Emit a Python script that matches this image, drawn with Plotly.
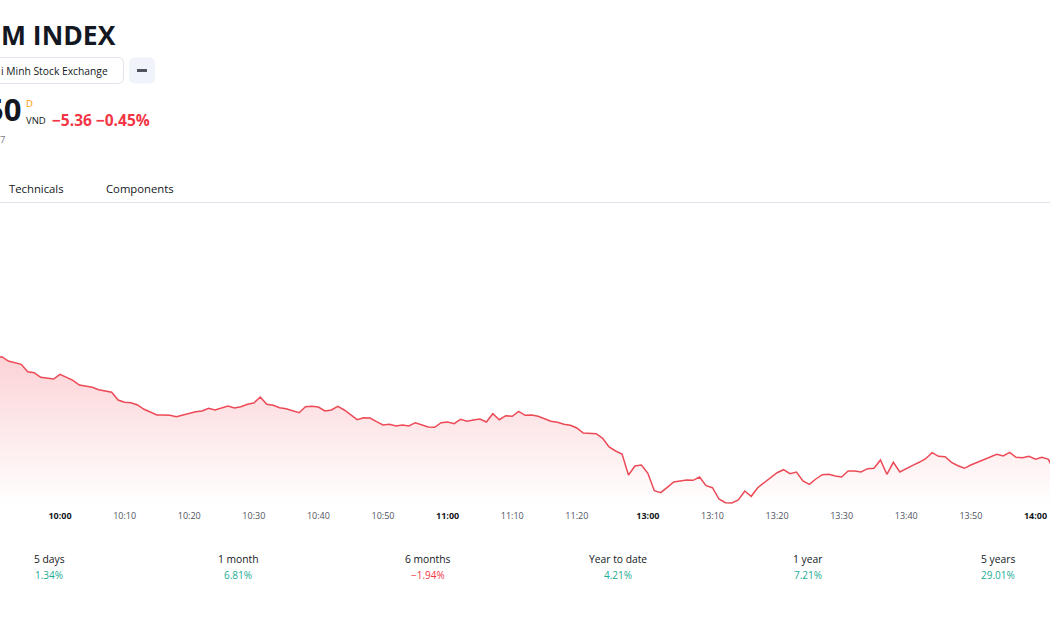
import plotly.graph_objects as go

W, H = 1050, 630
FONT = "Open Sans"
DARK = "#131722"
RED = "#f23645"
GREEN = "#22ab94"

# ---------------- data ----------------
times = [
    "09:50", "09:51", "09:52", "09:53", "09:54", "09:55", "09:56", "09:57", "09:58", "09:59",
    "10:00", "10:01", "10:02", "10:03", "10:04", "10:05", "10:06", "10:07", "10:08", "10:09",
    "10:10", "10:11", "10:12", "10:13", "10:14", "10:15", "10:16", "10:17", "10:18", "10:19",
    "10:20", "10:21", "10:22", "10:23", "10:24", "10:25", "10:26", "10:27", "10:28", "10:29",
    "10:30", "10:31", "10:32", "10:33", "10:34", "10:35", "10:36", "10:37", "10:38", "10:39",
    "10:40", "10:41", "10:42", "10:43", "10:44", "10:45", "10:46", "10:47", "10:48", "10:49",
    "10:50", "10:51", "10:52", "10:53", "10:54", "10:55", "10:56", "10:57", "10:58", "10:59",
    "11:00", "11:01", "11:02", "11:03", "11:04", "11:05", "11:06", "11:07", "11:08", "11:09",
    "11:10", "11:11", "11:12", "11:13", "11:14", "11:15", "11:16", "11:17", "11:18", "11:19",
    "11:20", "11:21", "11:22", "11:23", "11:24", "11:25", "11:26", "11:27", "11:28", "11:29",
    "11:30",
    "13:00", "13:01", "13:02", "13:03", "13:04", "13:05", "13:06", "13:07", "13:08", "13:09",
    "13:10", "13:11", "13:12", "13:13", "13:14", "13:15", "13:16", "13:17", "13:18", "13:19",
    "13:20", "13:21", "13:22", "13:23", "13:24", "13:25", "13:26", "13:27", "13:28", "13:29",
    "13:30", "13:31", "13:32", "13:33", "13:34", "13:35", "13:36", "13:37", "13:38", "13:39",
    "13:40", "13:41", "13:42", "13:43", "13:44", "13:45", "13:46", "13:47", "13:48", "13:49",
    "13:50", "13:51", "13:52", "13:53", "13:54", "13:55", "13:56", "13:57", "13:58", "13:59",
    "14:00", "14:01", "14:02", "14:03",
]

values = [
    1196.55, 1196.63, 1196.20, 1196.03, 1195.87, 1195.13, 1195.03, 1194.57, 1194.47, 1194.40,
    1194.87, 1194.57, 1194.27, 1193.80, 1193.67, 1193.57, 1193.33, 1193.23, 1193.07, 1192.30,
    1192.07, 1192.03, 1191.80, 1191.37, 1191.10, 1190.80, 1190.80, 1190.77, 1190.63, 1190.80,
    1190.90, 1191.13, 1191.20, 1191.47, 1191.30, 1191.53, 1191.70, 1191.50, 1191.63, 1191.87,
    1192.00, 1192.60, 1191.87, 1191.77, 1191.53, 1191.43, 1191.23, 1191.03, 1191.63, 1191.67,
    1191.60, 1191.20, 1191.30, 1191.67, 1191.30, 1190.80, 1190.33, 1190.53, 1190.50, 1190.13,
    1189.80, 1189.87, 1189.70, 1189.80, 1189.70, 1190.03, 1189.78, 1189.60, 1189.57, 1190.03,
    1190.10, 1189.93, 1190.37, 1190.17, 1190.30, 1190.40, 1190.10, 1190.93, 1190.33, 1190.73,
    1190.67, 1191.17, 1190.77, 1190.80, 1190.67, 1190.40, 1190.17, 1190.07, 1189.87, 1189.77,
    1189.50, 1189.00, 1188.93, 1188.93, 1188.47, 1187.60, 1187.20, 1186.90, 1184.80, 1185.70,
    1185.80,
    1184.97, 1183.23, 1183.03, 1183.57, 1184.10, 1184.20, 1184.30, 1184.27, 1184.60, 1183.73,
    1183.53, 1182.40, 1182.03, 1182.00, 1182.30, 1183.20, 1182.67, 1183.53, 1184.03, 1184.50,
    1185.03, 1185.33, 1184.93, 1185.10, 1184.20, 1183.87, 1184.40, 1184.83, 1184.87, 1184.70,
    1184.60, 1185.20, 1185.20, 1185.10, 1185.43, 1185.47, 1186.30, 1184.87, 1186.07, 1185.10,
    1185.47, 1185.77, 1186.07, 1186.43, 1187.03, 1186.67, 1186.63, 1186.07, 1185.73, 1185.47,
    1185.80, 1186.07, 1186.40, 1186.67, 1186.87, 1186.70, 1187.07, 1186.57, 1186.53, 1186.67,
    1186.37, 1186.57, 1186.37, 1185.10,
]

tick_times = ["10:00", "10:10", "10:20", "10:30", "10:40", "10:50", "11:00", "11:10",
              "11:20", "13:00", "13:10", "13:20", "13:30", "13:40", "13:50", "14:00"]
hour_ticks = ["10:00", "11:00", "13:00", "14:00"]

perf_periods = ["5 days", "1 month", "6 months", "Year to date", "1 year", "5 years"]
perf_changes = [1.34, 6.81, -1.94, 4.21, 7.21, 29.01]

price_tail = "50"
price_change = -5.36
price_change_pct = -0.45

# ---------------- helpers ----------------
def px(x):
    return x / W

def py(y):
    return 1 - y / H

Y_LO, Y_HI = 1181.7, 1211.3          # axis range
PLOT_TOP, PLOT_BOTTOM = 210, 506     # pixel rows of the plot area

fig = go.Figure()

fig.add_trace(go.Scatter(
    x=times, y=[Y_LO] * len(times), mode="lines",
    line=dict(width=0, color="rgba(0,0,0,0)"), hoverinfo="skip", showlegend=False,
))
fig.add_trace(go.Scatter(
    x=times, y=values, mode="lines",
    line=dict(color="#ec4a56", width=1.5),
    fill="tonexty",
    fillgradient=dict(
        type="vertical", start=Y_LO, stop=max(values),
        colorscale=[[0, "rgba(242,54,69,0)"], [1, "rgba(242,54,69,0.22)"]],
    ),
    showlegend=False, hoverinfo="x+y",
))

tick_text = [f"<b>{t}</b>" if t in hour_ticks else f"<span style='color:#50535e'>{t}</span>"
             for t in tick_times]

ann = []

def txt(x, y, s, size, color=DARK, anchor="left", bold=False):
    ann.append(dict(
        x=px(x), y=py(y), xref="paper", yref="paper", text=(f"<b>{s}</b>" if bold else s),
        showarrow=False, xanchor=anchor, yanchor="middle",
        font=dict(family=FONT, size=size, color=color),
    ))

txt(-1, 35, "M INDEX", 26.5, bold=True)
txt(-1, 70.5, "i Minh Stock Exchange", 10.3)
txt(23, 109, price_tail, 31, anchor="right", bold=True)
txt(23.5, 104, "D", 9.5, color="#ff9800")
txt(23.5, 121, "VND", 9.5)
txt(50, 119.5, f"\u2212{abs(price_change):.2f} \u2212{abs(price_change_pct):.2f}%", 15.5,
    color=RED, bold=True)
txt(-2, 139, "7", 9.5, color="#787b86")
txt(6.5, 188, "Technicals", 11.3)
txt(103.5, 188, "Components", 11.3)

perf_x = [49, 238, 428, 618, 808, 998]
for cx, lab, ch in zip(perf_x, perf_periods, perf_changes):
    txt(cx, 559, lab, 10.3, anchor="center")
    s = f"{ch:.2f}%" if ch >= 0 else f"\u2212{abs(ch):.2f}%"
    txt(cx, 575, s, 10, color=(GREEN if ch >= 0 else RED), anchor="center")

def rrect(x0, y0, x1, y1, r):
    pts = [
        f"M{px(x0 + r)},{py(y0)}",
        f"L{px(x1 - r)},{py(y0)}",
        f"Q{px(x1)},{py(y0)} {px(x1)},{py(y0 + r)}",
        f"L{px(x1)},{py(y1 - r)}",
        f"Q{px(x1)},{py(y1)} {px(x1 - r)},{py(y1)}",
        f"L{px(x0 + r)},{py(y1)}",
        f"Q{px(x0)},{py(y1)} {px(x0)},{py(y1 - r)}",
        f"L{px(x0)},{py(y0 + r)}",
        f"Q{px(x0)},{py(y0)} {px(x0 + r)},{py(y0)}",
        "Z",
    ]
    return " ".join(pts)

shapes = [
    dict(type="path", xref="paper", yref="paper", path=rrect(-12, 57.5, 123.5, 83.5, 6),
         line=dict(color="#e0e3eb", width=1), fillcolor="white", layer="below"),
    dict(type="path", xref="paper", yref="paper", path=rrect(129, 57.5, 155, 83.5, 6),
         line=dict(width=0), fillcolor="#f0f3fa", layer="below"),
    dict(type="line", xref="paper", yref="paper", x0=px(137), x1=px(147), y0=py(70.5), y1=py(70.5),
         line=dict(color="#50535e", width=3)),
    dict(type="line", xref="paper", yref="paper", x0=0, x1=1, y0=py(202.5), y1=py(202.5),
         line=dict(color="#e0e3eb", width=1)),
]

idx0 = 0.71      # category position at left edge
idx1 = 163.25    # category position at right edge

fig.update_layout(
    width=W, height=H,
    margin=dict(l=0, r=0, t=0, b=0),
    paper_bgcolor="white", plot_bgcolor="white",
    showlegend=False,
    annotations=ann,
    shapes=shapes,
    xaxis=dict(
        type="category", categoryorder="array", categoryarray=times,
        range=[idx0, idx1], domain=[0, 1],
        showgrid=False, zeroline=False, showline=False, ticks="",
        tickmode="array", tickvals=tick_times, ticktext=tick_text,
        tickfont=dict(family=FONT, size=9, color=DARK),
        ticklabelstandoff=3,
    ),
    yaxis=dict(
        range=[Y_LO, Y_HI], visible=False,
        domain=[py(PLOT_BOTTOM), py(PLOT_TOP)],
    ),
    font=dict(family=FONT, color=DARK),
)

fig.write_html("out.html")
